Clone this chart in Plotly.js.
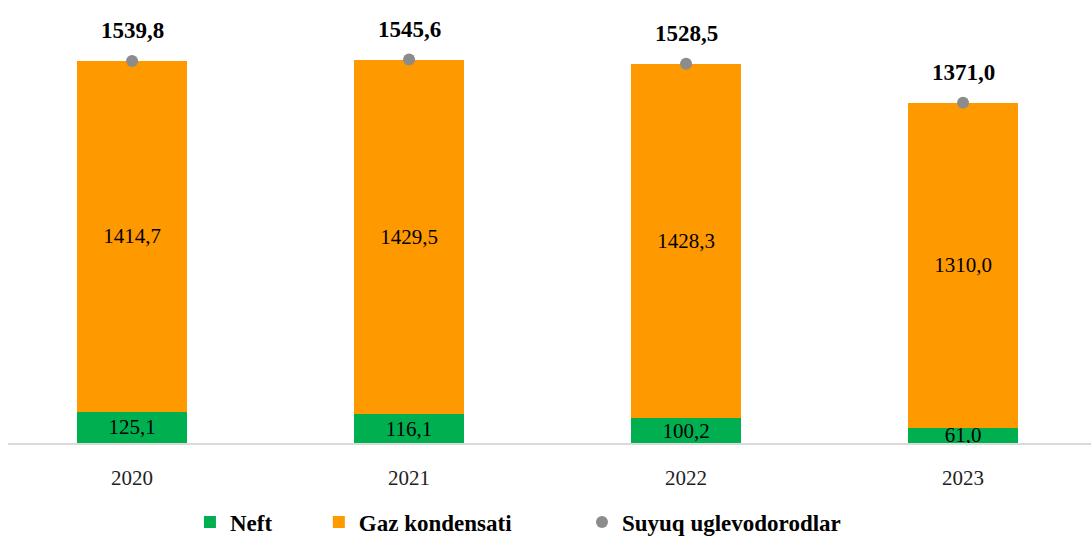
<!DOCTYPE html>
<html>
<head>
<meta charset="utf-8">
<script src="https://cdn.plot.ly/plotly-3.0.1.min.js"></script>
<style>html,body{margin:0;padding:0;background:#fff}#chart{width:1091px;height:536px}</style>
</head>
<body>
<div id="chart"></div>
<script>
const years = ['2020', '2021', '2022', '2023'];
const neft = [125.1, 116.1, 100.2, 61.0];
const gazKondensati = [1414.7, 1429.5, 1428.3, 1310.0];
const suyuqUglevodorodlar = [1539.8, 1545.6, 1528.5, 1371.0];

const fmt = v => v.toFixed(1).replace('.', ',');
const serif = 'Liberation Serif';

const traces = [
  {
    type: 'bar', name: '<b>Neft</b>', x: years, y: neft,
    marker: {color: '#00B050'}, width: 0.397,
    text: neft.map(fmt), textposition: 'inside', insidetextanchor: 'middle',
    constraintext: 'none', cliponaxis: false,
    textfont: {family: serif, size: 21, color: '#000'},
    hoverinfo: 'skip', legend: 'legend'
  },
  {
    type: 'bar', name: '<b>Gaz kondensati</b>', x: years, y: gazKondensati,
    marker: {color: '#FF9900'}, width: 0.397,
    text: gazKondensati.map(fmt), textposition: 'inside', insidetextanchor: 'middle',
    constraintext: 'none',
    textfont: {family: serif, size: 21, color: '#000'},
    hoverinfo: 'skip', legend: 'legend2'
  },
  {
    type: 'scatter', mode: 'markers', name: '<b>Suyuq uglevodorodlar</b>', x: years, y: suyuqUglevodorodlar,
    marker: {color: '#8C8C8C', size: 12}, cliponaxis: false,
    hoverinfo: 'skip', legend: 'legend3'
  }
];

const annotations = years.map((yr, i) => ({
  x: i, y: suyuqUglevodorodlar[i], xref: 'x', yref: 'y',
  text: '<b>' + fmt(suyuqUglevodorodlar[i]) + '</b>', showarrow: false, yshift: 30,
  font: {family: serif, size: 23, color: '#000'}
}));

function legendCfg(x) {
  return {orientation: 'h', yref: 'container', yanchor: 'middle', y: 0.026, x: x, xanchor: 'left',
          font: {family: serif, size: 23, color: '#000'}, bgcolor: 'rgba(0,0,0,0)', borderwidth: 0};
}

const layout = {
  width: 1091, height: 536,
  margin: {l: 8, r: 0, t: 0, b: 93},
  barmode: 'stack',
  paper_bgcolor: '#fff', plot_bgcolor: '#fff',
  font: {family: serif, color: '#000'},
  xaxis: {
    type: 'category', range: [-0.448, 3.462],
    showline: true, linecolor: '#D9D9D9', linewidth: 2,
    showgrid: false, zeroline: false,
    ticks: 'outside', ticklen: 15, tickcolor: 'rgba(0,0,0,0)',
    tickfont: {family: serif, size: 21, color: '#222'}
  },
  yaxis: {range: [0, 1785.6], visible: false, showgrid: false, zeroline: false},
  showlegend: true,
  legend: legendCfg(0.168),
  legend2: legendCfg(0.287),
  legend3: legendCfg(0.530),
  annotations: annotations
};

Plotly.newPlot('chart', traces, layout, {staticPlot: true, displayModeBar: false});
</script>
</body>
</html>
